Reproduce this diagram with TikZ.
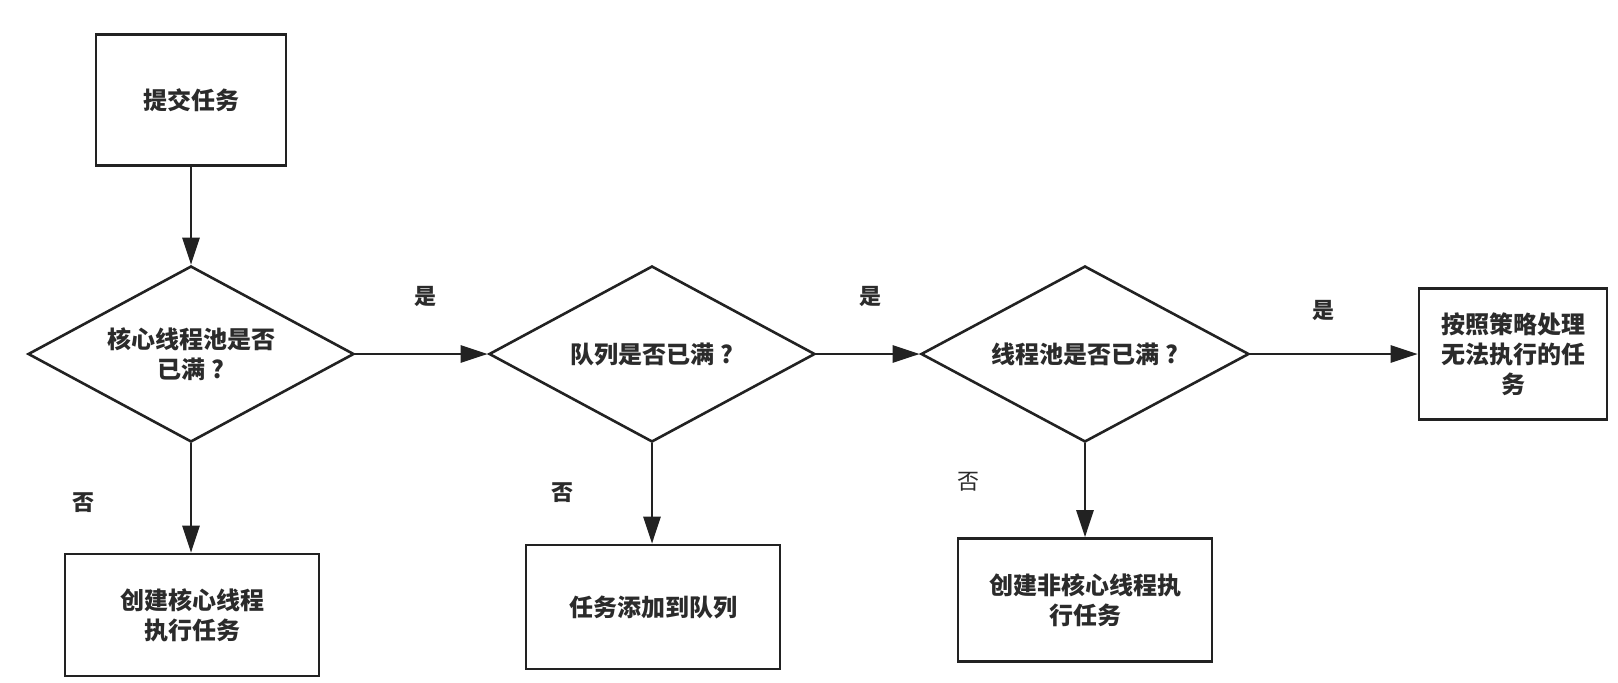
\documentclass[tikz,border=0pt]{standalone}
\usepackage{fontspec}
\newfontfamily\cjk{Noto Sans CJK SC}
\usetikzlibrary{shapes.geometric,arrows.meta}
\definecolor{ink}{HTML}{222222}
\definecolor{txt}{HTML}{2B2B2B}
\tikzset{
  box/.style={draw=ink,line width=2.6pt,rectangle,inner sep=0pt,align=center,
    text=txt,font=\cjk\bfseries\fontsize{24}{30}\selectfont},
  decide/.style={draw=ink,line width=2.6pt,diamond,aspect=1.85,inner sep=0pt,align=center,
    minimum width=326pt,minimum height=176pt,
    text=txt,font=\cjk\bfseries\fontsize{24}{30}\selectfont},
  flow/.style={draw=ink,line width=2.6pt,-{Triangle[length=27pt,width=17pt]}},
  lbl/.style={text=txt,font=\cjk\bfseries\fontsize{22}{26}\selectfont,inner sep=0pt},
}
\begin{document}
\begin{tikzpicture}[x=1pt,y=-1pt]
\useasboundingbox (0,0) rectangle (1618,683);
\fill[white] (0,0) rectangle (1618,683);

\node[box,minimum width=190pt,minimum height=131pt] (b1) at (191,100) {提交任务};
\node[decide] (d1) at (191,354) {核心线程池是否\\已满 ?};
\node[box,minimum width=254pt,minimum height=122pt] (b2) at (192,615) {创建核心线程\\执行任务};

\node[decide] (d2) at (652,354) {队列是否已满 ?};
\node[box,minimum width=254pt,minimum height=124pt] (b3) at (653,607) {任务添加到队列};

\node[decide,minimum width=328pt] (d3) at (1085,354) {线程池是否已满 ?};
\node[box,minimum width=254pt,minimum height=123pt] (b4) at (1085,600) {创建非核心线程执\\行任务};

\node[box,minimum width=188pt,minimum height=131pt] (b5) at (1513,354) {按照策略处理\\无法执行的任\\务};

\draw[flow] (b1.south) -- (d1.north);
\draw[flow] (d1.south) -- (d1.south |- b2.north);
\draw[flow] (d1.east) -- (d2.west);
\draw[flow] (d2.south) -- (d2.south |- b3.north);
\draw[flow] (d2.east) -- (d3.west);
\draw[flow] (d3.south) -- (d3.south |- b4.north);
\draw[flow] (d3.east) -- (b5.west);

\node[lbl] (y1) at (425,296) {是};
\node[lbl] (y2) at (870,296) {是};
\node[lbl] (y3) at (1323,310) {是};
\node[lbl] (n1) at (83,503) {否};
\node[lbl] (n2) at (562,493) {否};
\node[lbl,font=\cjk\fontsize{22}{26}\selectfont] (n3) at (968,482) {否};
\end{tikzpicture}
\end{document}
